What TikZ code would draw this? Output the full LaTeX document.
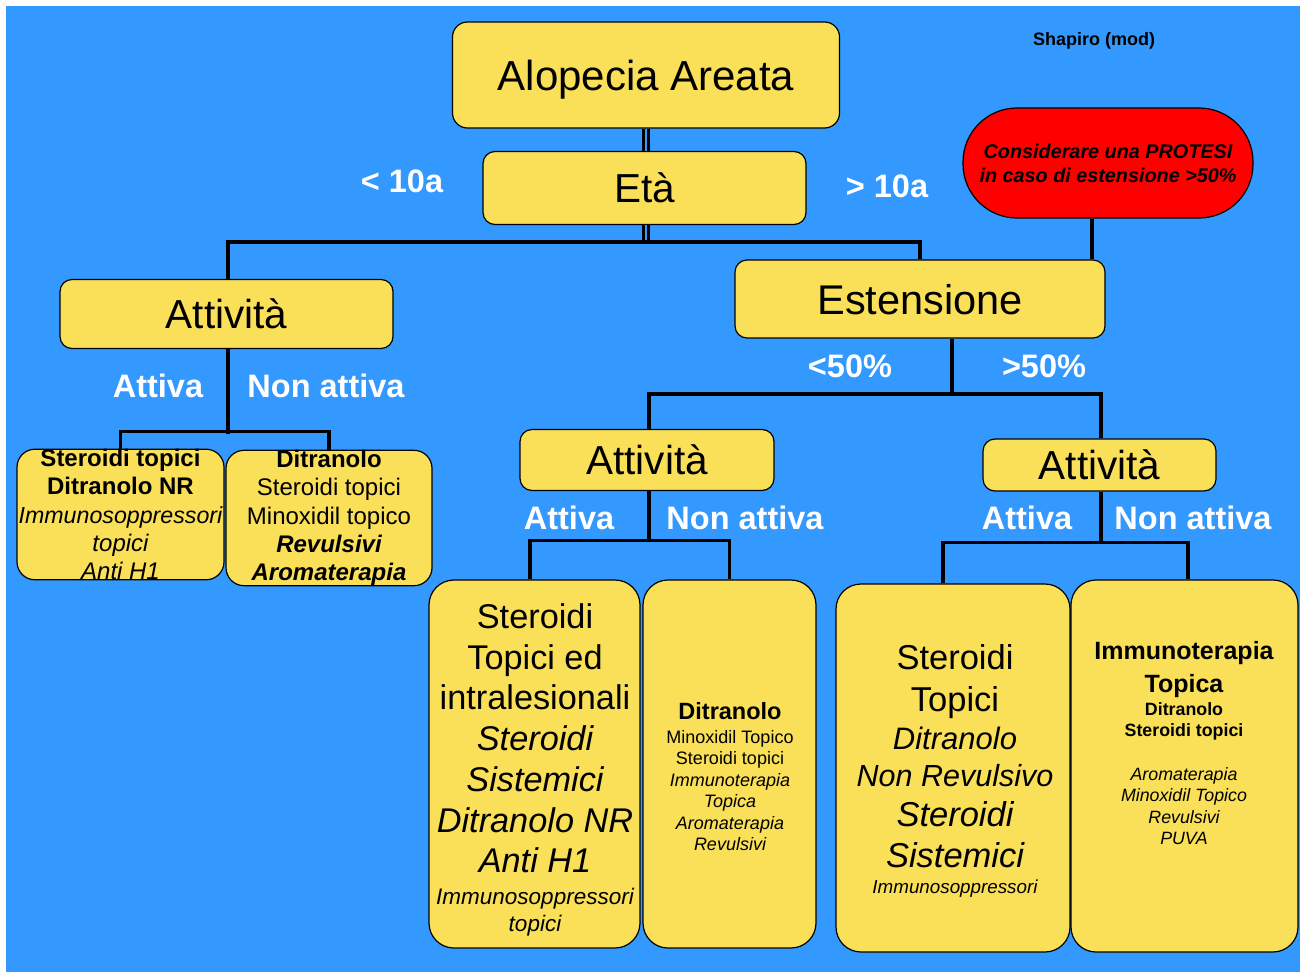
\documentclass[tikz,border=0pt]{standalone}
\usepackage{fontspec}
\setmainfont{Liberation Sans}
\usetikzlibrary{positioning}
\definecolor{bgblue}{RGB}{51,153,255}
\definecolor{boxyel}{RGB}{250,223,88}
\newcommand{\fsz}[2]{\fontsize{#1}{#2}\selectfont}

\begin{document}
\begin{tikzpicture}[x=1pt,y=-1pt,
box/.style={draw,fill=boxyel,line width=1.2pt,rounded corners=12pt,align=center,inner sep=0pt},
big/.style={font=\fsz{40.5}{48},text depth=0pt},
lbl/.style={text=white,font=\bfseries\fsz{32.5}{38}},
txt/.style={align=center,inner sep=0pt},
wire/.style={line width=3.5pt},
twin/.style={line width=3pt,double=bgblue,double distance=1.5pt}]
\useasboundingbox (0,0) rectangle (1300,972);
\fill[white] (0,0) rectangle (1300,972);
\fill[bgblue] (6,6) rectangle (1300,972);

\node[box,big,font=\fsz{42}{48},rounded corners=15pt,minimum width=387,minimum height=106] (alopecia) at (646,75) {Alopecia Areata};
\node[box,big,minimum width=323,minimum height=73] (eta) at (644.5,188) {Età};
\node[lbl] (lt10) at (402,181) {< 10a};
\node[lbl] (gt10) at (887,186) {> 10a};
\node[font=\bfseries\fsz{18}{21}] (shapiro) at (1094,41) {Shapiro (mod)};
\node[box,fill=red,rounded corners=54pt,minimum width=290,minimum height=110,font=\bfseries\itshape\fsz{19.8}{24}] (protesi) at (1108,163) {Considerare una PROTESI\\in caso di estensione >50\%};

\node[box,big,minimum width=333,minimum height=69] (att1) at (226.5,314) {Attività};
\node[lbl] (att1yes) at (158,386) {Attiva};
\node[lbl] (att1no) at (326,386) {Non attiva};
\node[box,rounded corners=18pt,minimum width=207,minimum height=129,font=\fsz{24}{28.25}] (lb1) at (120.5,514.5)
  {{\bfseries Steroidi topici}\\{\bfseries Ditranolo NR}\\{\fsz{23.2}{28.25}\itshape Immunosoppressori}\\{\itshape topici}\\{\itshape Anti H1}};
\node[box,rounded corners=18pt,minimum width=206,minimum height=132,font=\fsz{24}{28.25}] (lb2) at (329,518)
  {{\bfseries Ditranolo}\\Steroidi topici\\Minoxidil topico\\{\bfseries\itshape Revulsivi}\\{\bfseries\itshape Aromaterapia}};

\node[box,big,font=\fsz{41.5}{48},minimum width=370,minimum height=78] (est) at (920,299) {Estensione};
\node[lbl] (lt50) at (850,366) {<50\%};
\node[lbl] (gt50) at (1044,366) {>50\%};
\node[box,big,minimum width=254,minimum height=61] (att2) at (647,460) {Attività};
\node[box,big,minimum width=233,minimum height=52] (att3) at (1099.5,465) {Attività};
\node[lbl] (att2yes) at (569,518) {Attiva};
\node[lbl] (att2no) at (745,518) {Non attiva};
\node[lbl] (att3yes) at (1027,518) {Attiva};
\node[lbl] (att3no) at (1193,518) {Non attiva};

\node[box,rounded corners=25pt,minimum width=211,minimum height=368] (b1) at (534.5,764) {};
\node[box,rounded corners=25pt,minimum width=173,minimum height=368] (b2) at (729.5,764) {};
\node[box,rounded corners=25pt,minimum width=234,minimum height=368] (b3) at (953,768) {};
\node[box,rounded corners=25pt,minimum width=227,minimum height=372] (b4) at (1184.5,766) {};
\node[txt,font=\fsz{34.3}{40.7}] (b1txt) at (535,770)
  {Steroidi\\Topici ed\\intralesionali\\{\itshape Steroidi}\\{\itshape Sistemici}\\{\itshape Ditranolo NR}\\{\itshape Anti H1}\\[-8.7pt]{\fsz{22.5}{27}\itshape Immunosoppressori}\\[-13.7pt]{\fsz{22.5}{27}\itshape topici}};
\node[txt,font=\fsz{18}{21.5}] (b2txt) at (730,776.5)
  {{\fsz{23.5}{28}\bfseries Ditranolo}\\[2.5pt]Minoxidil Topico\\Steroidi topici\\{\itshape Immunoterapia}\\{\itshape Topica}\\{\itshape Aromaterapia}\\{\itshape Revulsivi}};
\node[txt,font=\fsz{34.5}{40}] (b3txt) at (955,771)
  {Steroidi\\[2pt]Topici\\[-2pt]{\fsz{31}{36}\itshape Ditranolo}\\[-3pt]{\fsz{30.5}{36}\itshape Non Revulsivo}\\{\itshape Steroidi}\\[1pt]{\itshape Sistemici}\\[-14.4pt]{\fsz{18.8}{22}\itshape Immunosoppressori}};
\node[txt,font=\fsz{17.8}{21.5}] (b4txt) at (1184,743)
  {{\fsz{25}{30}\bfseries Immunoterapia}\\[8.5pt]{\fsz{25}{30}\bfseries Topica}\\[1.5pt]{\bfseries Ditranolo}\\[-0.5pt]{\bfseries Steroidi topici}\\[22.5pt]{\itshape Aromaterapia}\\{\itshape Minoxidil Topico}\\{\itshape Revulsivi}\\{\itshape PUVA}};

\draw[twin] (alopecia.south) -- (alopecia.south |- eta.north);
\draw[twin] (alopecia.south |- eta.south) -- ++(0,18);
\draw[wire] ([xshift=1.5pt]att1.north) -- ++(0,-37) -| (est.north);
\draw[wire] ([xshift=-16pt]protesi.south) -- ([xshift=-16pt]protesi.south |- est.north);
\draw[wire] ([xshift=1.5pt]att1.south) -- ++(0,85);
\draw[wire] (lb1.north) -- ++(0,-17) -| (lb2.north);
\draw[wire] ([xshift=32pt]est.south) -- ++(0,56);
\draw[wire] ([xshift=2pt]att2.north) -- ++(0,-35) -| ([xshift=1.5pt]att3.north);
\draw[wire] ([xshift=2pt]att2.south) -- ++(0,51);
\draw[wire] ([xshift=-4.5pt]b1.north) -- ++(0,-39) -| (b2.north);
\draw[wire] ([xshift=1.5pt]att3.south) -- ++(0,52);
\draw[wire] ([xshift=-10pt]b3.north) -- ++(0,-41) -| ([xshift=3.5pt]b4.north);
\end{tikzpicture}
\end{document}
